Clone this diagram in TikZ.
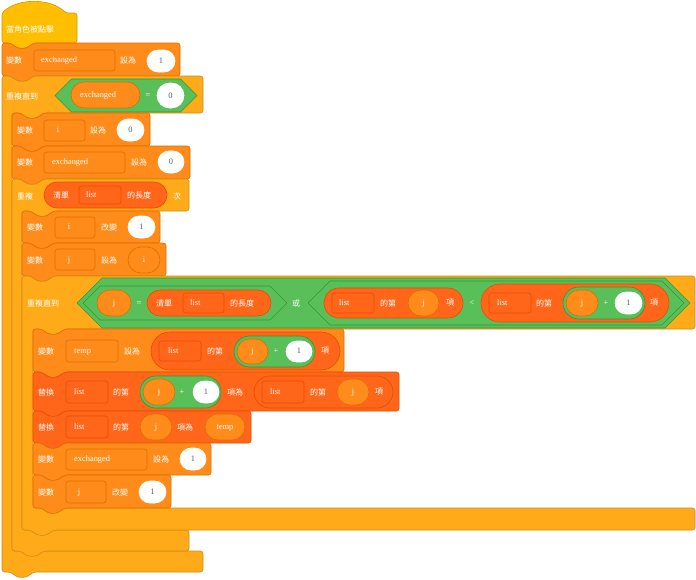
\documentclass[tikz,border=0pt]{standalone}
\usepackage{fontspec}
\setmainfont{Liberation Serif}
\newfontfamily\cjk{Noto Sans CJK TC}
\definecolor{evF}{HTML}{FFBF00}\definecolor{evB}{HTML}{CC9900}
\definecolor{varF}{HTML}{FF8C1A}\definecolor{varB}{HTML}{DB6E00}
\definecolor{ctlF}{HTML}{FFAB19}\definecolor{ctlB}{HTML}{CF8B17}
\definecolor{opF}{HTML}{59C059}\definecolor{opB}{HTML}{389438}
\definecolor{lsF}{HTML}{FF661A}\definecolor{lsB}{HTML}{E64D00}
\definecolor{numT}{HTML}{575E75}
\newcommand\sblock[5]{\draw[#5,rounded corners=2.5] (#1,#2+8) -- (#1,#2) -- (#1+8,#2) -- (#1+16,#2+5.3) -- (#1+24,#2+5.3) -- (#1+32,#2) -- (#3,#2) -- (#3,#4) -- (#1+32,#4) -- (#1+24,#4+5.3) -- (#1+16,#4+5.3) -- (#1+8,#4) -- (#1,#4) -- cycle;}
% L T R HB A BT B style
\newcommand\cblock[8]{\draw[#8,rounded corners=2.5] (#1,#2+8) -- (#1,#2) -- (#1+8,#2) -- (#1+16,#2+5.3) -- (#1+24,#2+5.3) -- (#1+32,#2) -- (#3,#2) -- (#3,#4) -- (#5+32,#4) -- (#5+24,#4+5.3) -- (#5+16,#4+5.3) -- (#5+8,#4) -- (#5,#4) -- (#5,#6) -- (#3,#6) -- (#3,#7) -- (#1+32,#7) -- (#1+24,#7+5.3) -- (#1+16,#7+5.3) -- (#1+8,#7) -- (#1,#7) -- cycle;}
\newcommand\pill[5]{\pgfmathsetmacro\myrr{(#4-#2)/2-0.01}\draw[#5,rounded corners=\myrr pt] (#1,#2) rectangle (#3,#4);}
\newcommand\fld[5]{\draw[#5,rounded corners=2.5] (#1,#2) rectangle (#3,#4);}
\newcommand\hexa[5]{\pgfmathsetmacro\myhd{(#4-#2)/2}\pgfmathsetmacro\myhm{(#4+#2)/2}\draw[#5] (#1,\myhm) -- (#1+\myhd,#2) -- (#3-\myhd,#2) -- (#3,\myhm) -- (#3-\myhd,#4) -- (#1+\myhd,#4) -- cycle;}
\tikzset{
 evt/.style={fill=evF,draw=evB,line width=0.6pt},
 var/.style={fill=varF,draw=varB,line width=0.6pt},
 ctl/.style={fill=ctlF,draw=ctlB,line width=0.6pt},
 opr/.style={fill=opF,draw=opB,line width=0.6pt},
 lst/.style={fill=lsF,draw=lsB,line width=0.6pt},
 varfld/.style={fill=varF,draw=varB,line width=0.6pt},
 lstfld/.style={fill=lsF,draw=lsB,line width=0.6pt},
 varrep/.style={fill=varF,draw=varB,line width=0.6pt},
 wht/.style={fill=white,draw=white,line width=0.6pt},
 cj/.style={anchor=west,text=white,inner sep=0pt,font=\cjk\fontsize{8}{9}\selectfont},
 lt/.style={anchor=west,text=white,inner sep=0pt,text height=4.2pt,text depth=0pt,font=\fontsize{8.4}{9}\selectfont},
 ltc/.style={text=white,inner sep=0pt,text height=4.2pt,text depth=0pt,font=\fontsize{8.4}{9}\selectfont},
 cjc/.style={text=white,inner sep=0pt,font=\cjk\fontsize{8}{9}\selectfont},
 num/.style={text=numT,inner sep=0pt,text height=5.4pt,text depth=0pt,font=\fontsize{8.4}{9}\selectfont},
}
\begin{document}
\begin{tikzpicture}[x=1pt,y=-1pt]
\useasboundingbox (0,0) rectangle (696,579);
% hat
\draw[evt,rounded corners=2.5] (2,30) -- (2,13) .. controls (18,-2) and (50,-2) .. (66,13) -- (77,13) -- (77,43) -- (34,43) -- (26,48.3) -- (18,48.3) -- (10,43) -- (2,43) -- cycle;
\node[cj] (t1) at (6,29) {當角色被點擊};
% block A
\sblock{2}{43}{180}{76}{var}
\node[cj] (a1) at (6,60) {變數};
\fld{34}{50}{115}{71}{varfld}
\node[lt] (a2) at (41,60.5) {exchanged};
\node[cj] (a3) at (120,60) {設為};
\pill{147}{50}{175}{72}{wht}
\node[num] (a4) at (161,61) {1};
% outer repeat until
\cblock{2}{76}{203}{113}{12}{551}{572}{ctl}
\node[cj] (b1) at (6,96) {重複直到};
\hexa{55}{79}{197}{112}{opr}
\pill{71}{82}{140}{108}{varrep}
\node[lt] (b2) at (80,95.5) {exchanged};
\node[ltc] (b3) at (148,95.5) {=};
\pill{157}{83}{184}{108}{wht}
\node[num] (b4) at (170.5,95.5) {0};
% block B
\sblock{12}{113}{150}{146}{var}
\node[cj] (c1) at (17,130) {變數};
\fld{44}{120}{85}{141}{varfld}
\node[ltc] (c2) at (58,130.5) {i};
\node[cj] (c3) at (90,130) {設為};
\pill{117}{119}{144}{141}{wht}
\node[num] (c4) at (130.5,130) {0};
% block C
\sblock{12}{146}{190}{179}{var}
\node[cj] (d1) at (17,162) {變數};
\fld{44}{152}{125}{173}{varfld}
\node[lt] (d2) at (52,162.5) {exchanged};
\node[cj] (d3) at (131,162) {設為};
\pill{158}{151}{184}{173}{wht}
\node[num] (d4) at (171,162) {0};
% repeat
\cblock{12}{179}{189}{211}{22}{530}{551}{ctl}
\node[cj] (e1) at (17,196) {重複};
\pill{44}{182}{167}{208}{lst}
\node[cj] (e2) at (53,195) {清單};
\fld{79}{186}{121}{204}{lstfld}
\node[lt] (e3) at (86,195) {list};
\node[cj] (e4) at (127,195) {的長度};
\node[cj] (e5) at (173,196) {次};
% block D
\sblock{22}{211}{160}{243}{var}
\node[cj] (f1) at (27,227) {變數};
\fld{55}{217}{95}{238}{varfld}
\node[ltc] (f2) at (69,227.5) {i};
\node[cj] (f3) at (101,227) {改變};
\pill{128}{216}{155}{238}{wht}
\node[num] (f4) at (141.5,227) {1};
% block E
\sblock{22}{243}{166}{276}{var}
\node[cj] (g1) at (27,260) {變數};
\fld{55}{249}{95}{270}{varfld}
\node[ltc] (g2) at (69,260) {j};
\node[cj] (g3) at (101,260) {設為};
\pill{128}{247}{160}{273}{varrep}
\node[ltc] (g4) at (144,260.5) {i};
% inner repeat until
\cblock{22}{276}{695}{329}{33}{508}{530}{ctl}
\node[cj] (h1) at (27,303) {重複直到};
\hexa{77}{278}{690}{328}{opr}
\hexa{83}{286}{287}{320}{opr}
\pill{97}{290}{131}{316}{varrep}
\node[ltc] (h2) at (114,303) {j};
\node[ltc] (h3) at (139,303) {=};
\pill{147}{290}{271}{316}{lst}
\node[cj] (h4) at (156,303) {清單};
\fld{183}{293}{224}{313}{lstfld}
\node[lt] (h5) at (190,303) {list};
\node[cj] (h6) at (230,303) {的長度};
\node[cjc] (h7) at (296,303) {或};
\hexa{308}{281}{684}{325}{opr}
\pill{324}{288}{463}{318}{lst}
\fld{332}{293}{374}{313}{lstfld}
\node[lt] (h8) at (339,303) {list};
\node[cj] (h9) at (380,303) {的第};
\pill{408}{290}{439}{316}{varrep}
\node[ltc] (h10) at (423.5,303) {j};
\node[cj] (h11) at (446,303) {項};
\node[ltc] (h12) at (472,303) {<};
\pill{481}{284}{669}{322}{lst}
\fld{489}{293}{531}{313}{lstfld}
\node[lt] (h13) at (497,303) {list};
\node[cj] (h14) at (536,303) {的第};
\pill{563}{287}{645}{319}{opr}
\pill{566}{290}{598}{316}{varrep}
\node[ltc] (h15) at (582,303) {j};
\node[ltc] (h16) at (606,303) {+};
\pill{615}{292}{642}{314}{wht}
\node[num] (h17) at (628.5,303) {1};
\node[cj] (h18) at (650,303) {項};
% temp block
\sblock{33}{329}{344}{372}{var}
\node[cj] (i1) at (38,351) {變數};
\fld{66}{340}{118}{362}{varfld}
\node[lt] (i2) at (74,351) {temp};
\node[cj] (i3) at (124,351) {設為};
\pill{151}{332}{340}{370}{lst}
\fld{159}{341}{201}{361}{lstfld}
\node[lt] (i4) at (168,351) {list};
\node[cj] (i5) at (207,351) {的第};
\pill{234}{336}{315}{367}{opr}
\pill{237}{339}{268}{364}{varrep}
\node[ltc] (i6) at (252.5,351) {j};
\node[ltc] (i7) at (276,351) {+};
\pill{286}{341}{312}{362}{wht}
\node[num] (i8) at (299,351) {1};
\node[cj] (i9) at (321,351) {項};
% replace 1
\sblock{33}{372}{399}{411}{lst}
\node[cj] (j1) at (38,392) {替換};
\fld{66}{381}{108}{403}{lstfld}
\node[lt] (j2) at (74,392) {list};
\node[cj] (j3) at (113,392) {的第};
\pill{140}{376}{221}{408}{opr}
\pill{143}{379}{175}{405}{varrep}
\node[ltc] (j4) at (159,392) {j};
\node[ltc] (j5) at (182,392) {+};
\pill{193}{381}{219}{403}{wht}
\node[num] (j6) at (206,392) {1};
\node[cj] (j7) at (227,392) {項為};
\pill{254}{376}{393}{408}{lst}
\fld{262}{381}{304}{403}{lstfld}
\node[lt] (j8) at (270,392) {list};
\node[cj] (j9) at (310,392) {的第};
\pill{337}{379}{369}{405}{varrep}
\node[ltc] (j10) at (353,392) {j};
\node[cj] (j11) at (375,392) {項};
% replace 2
\sblock{33}{411}{251}{443}{lst}
\node[cj] (k1) at (38,427) {替換};
\fld{66}{416}{108}{438}{lstfld}
\node[lt] (k2) at (74,427) {list};
\node[cj] (k3) at (113,427) {的第};
\pill{140}{414}{172}{440}{varrep}
\node[ltc] (k4) at (156,427) {j};
\node[cj] (k5) at (177,427) {項為};
\pill{205}{414}{245}{440}{varrep}
\node[ltc] (k6) at (225,427) {temp};
% block F
\sblock{33}{443}{211}{475}{var}
\node[cj] (l1) at (38,459) {變數};
\fld{66}{449}{147}{470}{varfld}
\node[lt] (l2) at (74,459.5) {exchanged};
\node[cj] (l3) at (153,459) {設為};
\pill{180}{448}{206}{470}{wht}
\node[num] (l4) at (193,459) {1};
% block G
\sblock{33}{475}{171}{508}{var}
\node[cj] (m1) at (38,492) {變數};
\fld{66}{481}{106}{503}{varfld}
\node[ltc] (m2) at (79,492) {j};
\node[cj] (m3) at (112,492) {改變};
\pill{139}{481}{166}{503}{wht}
\node[num] (m4) at (152.5,492) {1};
\end{tikzpicture}
\end{document}
